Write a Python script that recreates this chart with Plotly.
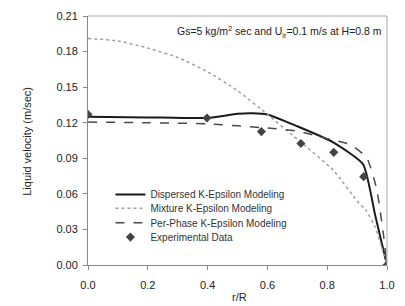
import plotly.graph_objects as go

# Experimental data
exp_r = [0.0, 0.398, 0.58, 0.712, 0.822, 0.922, 1.0]
exp_v = [0.127, 0.124, 0.1125, 0.1025, 0.095, 0.0745, 0.0]

# Dispersed K-Epsilon
disp_r = [0.0, 0.2, 0.4, 0.5, 0.55, 0.6, 0.7, 0.82, 0.92, 0.96, 0.98, 1.0]
disp_v = [0.125, 0.1245, 0.124, 0.1275, 0.128, 0.127, 0.117, 0.1035, 0.085, 0.0425, 0.021, 0.0]

# Mixture K-Epsilon
mix_r = [0.0, 0.1, 0.2, 0.3, 0.4, 0.5, 0.6, 0.7, 0.82, 0.9, 0.93, 0.96, 0.98, 1.0]
mix_v = [0.191, 0.189, 0.183, 0.175, 0.163, 0.147, 0.127, 0.106, 0.080, 0.054, 0.046, 0.032, 0.017, 0.0]

# Per-Phase K-Epsilon
pp_r = [0.0, 0.2, 0.4, 0.6, 0.7, 0.8, 0.876, 0.932, 0.965, 0.988, 1.0]
pp_v = [0.1205, 0.120, 0.119, 0.1155, 0.113, 0.1065, 0.1016, 0.0906, 0.0645, 0.026, 0.0]

# Legend labels
names = ["Dispersed K-Epsilon Modeling", "Mixture K-Epsilon Modeling",
         "Per-Phase K-Epsilon Modeling", "Experimental Data"]

fig = go.Figure()
fig.add_trace(go.Scatter(x=disp_r, y=disp_v, mode="lines", name=names[0], legend="legend",
                         line=dict(color="#1a1a1a", width=2, shape="spline", smoothing=0.5)))
fig.add_trace(go.Scatter(x=mix_r, y=mix_v, mode="lines", name=names[1], legend="legend2",
                         line=dict(color="#a0a0a0", width=1.5, dash="dot", shape="spline", smoothing=0.5)))
fig.add_trace(go.Scatter(x=pp_r, y=pp_v, mode="lines", name=names[2], legend="legend3",
                         line=dict(color="#4a4a4a", width=1.5, dash="dash", shape="spline", smoothing=0.5)))
fig.add_trace(go.Scatter(x=exp_r, y=exp_v, mode="markers", name=names[3], legend="legend4",
                         marker=dict(symbol="diamond", size=7, color="#444444")))

leg_common = dict(x=0.075, xanchor="left", yanchor="middle", bgcolor="rgba(0,0,0,0)",
                  font=dict(size=10, color="#333"), itemwidth=30)
row_y = [0.283, 0.228, 0.17, 0.112]

fig.update_layout(
    width=405, height=306,
    margin=dict(l=88, r=17, t=10, b=41),
    paper_bgcolor="white", plot_bgcolor="white",
    font=dict(family="Liberation Sans, Arial, sans-serif", size=11, color="#222"),
    showlegend=True,
    legend=dict(y=row_y[0], **leg_common),
    legend2=dict(y=row_y[1], **leg_common),
    legend3=dict(y=row_y[2], **leg_common),
    legend4=dict(y=row_y[3], **leg_common),
    xaxis=dict(range=[0, 1.0], tickvals=[0, 0.2, 0.4, 0.6, 0.8, 1.0],
               ticktext=["0.0", "0.2", "0.4", "0.6", "0.8", "1.0"],
               showgrid=False, zeroline=False, showline=True, linecolor="#888",
               ticks="outside", ticklen=4, tickcolor="#888", ticklabelstandoff=6),
    yaxis=dict(range=[0, 0.21], tickvals=[0, 0.03, 0.06, 0.09, 0.12, 0.15, 0.18, 0.21],
               ticktext=["0.00", "0.03", "0.06", "0.09", "0.12", "0.15", "0.18", "0.21"],
               showgrid=False, zeroline=False, showline=True, linecolor="#888",
               ticks="outside", ticklen=4, tickcolor="#888", ticklabelstandoff=3),
)
fig.add_shape(type="line", xref="paper", yref="paper", x0=0, x1=1, y0=1, y1=1,
              line=dict(color="#aaa", width=1))
fig.add_shape(type="line", xref="paper", yref="paper", x0=1, x1=1, y0=0, y1=1,
              line=dict(color="#aaa", width=1))
fig.add_annotation(xref="paper", yref="paper", x=0.99, y=0.975, xanchor="right", yanchor="top",
                   text="Gs=5 kg/m<sup>2</sup> sec and U<sub>lr</sub>=0.1 m/s at H=0.8 m",
                   showarrow=False, font=dict(size=10.5, color="#222"))
# Axis titles
fig.add_annotation(xref="paper", yref="paper", x=-0.203, y=0.496, xanchor="center", yanchor="middle",
                   text="Liquid velocity (m/sec)", textangle=-90, showarrow=False,
                   font=dict(size=11, color="#222"))
fig.add_annotation(xref="paper", yref="paper", x=0.507, y=-0.129, xanchor="center", yanchor="middle",
                   text="r/R", showarrow=False, font=dict(size=11, color="#222"))

fig.write_html("out.html")
